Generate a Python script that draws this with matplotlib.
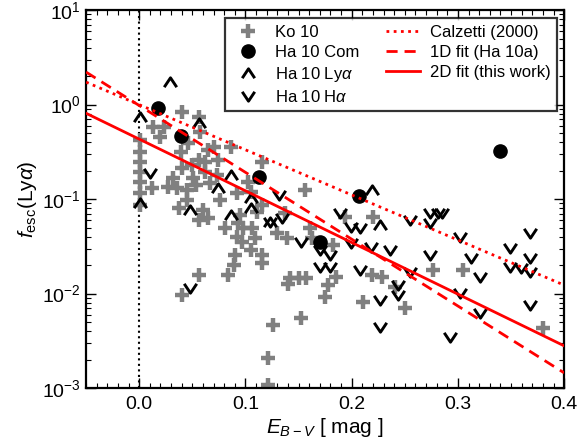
import matplotlib
matplotlib.use("Agg")
import matplotlib.pyplot as plt
from matplotlib.path import Path
from matplotlib.ticker import MultipleLocator, LogLocator, NullFormatter

plt.rcParams['font.family'] = ['Liberation Sans', 'DejaVu Sans']
plt.rcParams['mathtext.fontset'] = 'custom'
plt.rcParams['mathtext.rm'] = 'Liberation Sans'
plt.rcParams['mathtext.it'] = 'Liberation Sans:italic'
plt.rcParams['mathtext.bf'] = 'Liberation Sans:bold'

# Ko 10 (grey crosses)
ko_ebv = [0.001, 0.001, 0.001, 0.001, 0.001, 0.001, 0.001,
          0.013, 0.023, 0.020, 0.040, 0.056, 0.057, 0.046, 0.039, 0.065, 0.056, 0.050,
          0.062, 0.074, 0.086, 0.070, 0.040, 0.032, 0.051, 0.062, 0.073, 0.027, 0.012,
          0.036, 0.045, 0.053, 0.067, 0.116, 0.102, 0.092, 0.105,
          0.037, 0.045, 0.060, 0.056, 0.065, 0.076, 0.081, 0.093, 0.098, 0.106, 0.092,
          0.097, 0.109, 0.105, 0.116, 0.116, 0.090, 0.089, 0.084, 0.056, 0.040, 0.095,
          0.116, 0.111,
          0.137, 0.130, 0.139, 0.161, 0.163, 0.182, 0.194, 0.220, 0.156,
          0.142, 0.150, 0.157, 0.140, 0.185, 0.178, 0.175, 0.152, 0.211, 0.219, 0.229,
          0.241, 0.250, 0.277, 0.305, 0.380,
          0.126, 0.121, 0.121]
ko_fesc = [0.42, 0.314, 0.246, 0.193, 0.151, 0.116, 0.0865,
           0.58, 0.58, 0.45, 0.83, 0.74, 0.51, 0.39, 0.314, 0.33, 0.259, 0.229,
           0.246, 0.259, 0.355, 0.355, 0.213, 0.167, 0.167, 0.193, 0.180, 0.134, 0.131,
           0.131, 0.124, 0.141, 0.148, 0.246, 0.151, 0.116, 0.119,
           0.0803, 0.0976, 0.0765, 0.0600, 0.0629, 0.0976, 0.0493, 0.0557, 0.0493, 0.0493, 0.0396,
           0.0351, 0.0386, 0.0288, 0.0255, 0.0210, 0.0255, 0.0200, 0.0157, 0.0157, 0.0096, 0.0677,
           0.0865, 0.0728,
           0.0711, 0.0437, 0.0386, 0.0493, 0.0386, 0.0326, 0.0645, 0.0645, 0.124,
           0.0146, 0.0146, 0.0146, 0.0126, 0.0150, 0.0123, 0.0092, 0.0055, 0.0081, 0.0157, 0.0150,
           0.0117, 0.0070, 0.0177, 0.0177, 0.0043,
           0.0046, 0.0021, 0.00108]

# Ha 10 combined (black circles)
com_ebv = [0.018, 0.039, 0.113, 0.170, 0.207, 0.340]
com_fesc = [0.92, 0.47, 0.17, 0.035, 0.107, 0.32]

# Ha 10 Lya lower limits
lya_ebv = [0.029, 0.001, 0.056, 0.086, 0.074, 0.105, 0.001, 0.048, 0.086, 0.105, 0.219, 0.227, 0.123]
lya_fesc = [1.73, 0.74, 0.64, 0.180, 0.131, 0.1025, 0.0907, 0.0765, 0.0677, 0.0803, 0.124, 0.0531, 0.0571]

# Ha 10 Halpha upper limits
ha_ebv = [0.010, 0.132, 0.123, 0.134, 0.048, 0.152,
          0.189, 0.170, 0.180, 0.170, 0.180, 0.199, 0.208, 0.199, 0.218, 0.236, 0.208,
          0.244, 0.244, 0.255, 0.274, 0.281, 0.285, 0.274, 0.302, 0.274, 0.312, 0.255,
          0.321, 0.227, 0.227, 0.302, 0.321, 0.293, 0.349, 0.368, 0.349, 0.359, 0.368,
          0.368, 0.368]
ha_fesc = [0.188, 0.110, 0.0571, 0.0629, 0.0114, 0.0351,
           0.0711, 0.0288, 0.0255, 0.0191, 0.0191, 0.0506, 0.0493, 0.0342, 0.0311, 0.0288, 0.0177,
           0.0123, 0.0096, 0.0600, 0.0711, 0.0711, 0.0711, 0.0557, 0.0396, 0.0255, 0.0237, 0.0169,
           0.0150, 0.0085, 0.0044, 0.0101, 0.0062, 0.0035, 0.0303, 0.0437, 0.0191, 0.0186, 0.0237,
           0.0169, 0.0076]

# fit lines (end points)
fit_ebv = [-0.05, 0.40]
calz_fesc = [1.73, 0.0123]
fit1d_fesc = [2.21, 0.00145]
fit2d_fesc = [0.81, 0.0028]

up = Path([(-1, -0.75), (0, 0.75), (1, -0.75)], [Path.MOVETO, Path.LINETO, Path.LINETO])
down = Path([(-1, 0.75), (0, -0.75), (1, 0.75)], [Path.MOVETO, Path.LINETO, Path.LINETO])

fig = plt.figure(figsize=(5.78, 4.42), dpi=100)
ax = fig.add_axes([0.149, 0.122, 0.827, 0.855])

ax.axvline(0.0, color='k', ls=':', lw=1.5, zorder=1)

ax.plot(ko_ebv, ko_fesc, ls='none', marker='+', ms=9.5, mew=3.2, color='#808080',
        label='Ko 10', zorder=2)
ax.plot(com_ebv, com_fesc, ls='none', marker='o', ms=9.5, color='k',
        label='Ha 10 Com', zorder=3)
ax.plot(lya_ebv, lya_fesc, ls='none', marker=up, ms=9, mew=2.1, mfc='none', mec='k',
        label=r'Ha 10 Ly$\alpha$', zorder=3)
ax.plot(ha_ebv, ha_fesc, ls='none', marker=down, ms=9, mew=2.1, mfc='none', mec='k',
        label=r'Ha 10 H$\alpha$', zorder=3)

red = '#ff0000'
ax.plot(fit_ebv, calz_fesc, color=red, ls=(0, (1, 1.6)), lw=2, label='Calzetti (2000)', zorder=4)
ax.plot(fit_ebv, fit1d_fesc, color=red, ls=(0, (4, 2.5)), lw=2, label='1D fit (Ha 10a)', zorder=4)
ax.plot(fit_ebv, fit2d_fesc, color=red, ls='-', lw=2, label='2D fit (this work)', zorder=4)

ax.set_yscale('log')
ax.set_xlim(-0.05, 0.40)
ax.set_ylim(1e-3, 10)
ax.xaxis.set_major_locator(MultipleLocator(0.1))
ax.xaxis.set_minor_locator(MultipleLocator(0.01))
ax.yaxis.set_minor_locator(LogLocator(base=10, subs=range(2, 10)))
ax.yaxis.set_minor_formatter(NullFormatter())

ax.tick_params(which='both', direction='in', top=True, right=True, labelsize=14, colors='k')
ax.tick_params(which='major', length=7, width=1)
ax.tick_params(axis='x', which='major', pad=6)
ax.tick_params(axis='y', which='major', pad=4)
ax.tick_params(which='minor', length=3.5, width=0.8)
for s in ax.spines.values():
    s.set_linewidth(1.6)

ax.set_xlabel(r'$E_{B-V}$ [ mag ]', fontsize=15, labelpad=2)
ax.set_ylabel(r'$f_{\rm esc}$(Ly$\alpha$)', fontsize=15, labelpad=2)

leg = ax.legend(ncol=2, loc='upper right', bbox_to_anchor=(0.985, 0.979), borderaxespad=0,
                fontsize=12, frameon=True, fancybox=False, edgecolor='k',
                handlelength=2.0, columnspacing=1.6, labelspacing=0.3, handletextpad=0.6,
                borderpad=0.4, numpoints=1)
leg.get_frame().set_linewidth(1.6)

fig.savefig('out.png', dpi=100)
